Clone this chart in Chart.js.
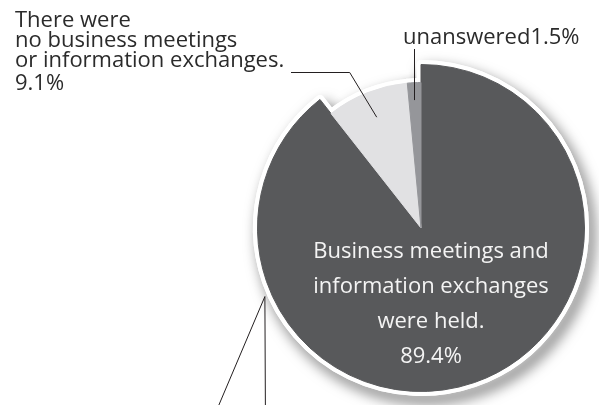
<!DOCTYPE html>
<html>
<head>
<meta charset="utf-8">
<script src="https://cdn.jsdelivr.net/npm/chart.js@4.4.1/dist/chart.umd.min.js"></script>
<style>
  html, body { margin: 0; padding: 0; background: #fff; }
  #wrap { width: 599px; height: 405px; position: relative; }
</style>
</head>
<body>
<div id="wrap"><canvas id="meetingChart"></canvas></div>
<script>
const categories = [
  "Business meetings and information exchanges were held.",
  "There were no business meetings or information exchanges.",
  "unanswered",
];
const shares = [89.4, 9.1, 1.5];
const heldLines = ["Business meetings and", "information exchanges", "were held."];
const noneLines = ["There were", "no business meetings", "or information exchanges."];
const unansweredLabel = "unanswered";

const sliceColors = ["#58595b", "#e1e1e3", "#95969a"];
// the two small slices are drawn a bit shorter than the main one
const sliceReach = [1, 0.89, 0.89];
const labelFont = '22px "Open Sans"';
const inkColor = "#2b2b2b";

const pct = (v) => v.toFixed(1) + "%";

const rimPlugin = {
  id: "rim",
  afterDatasetsUpdate(chart) {
    const meta = chart.getDatasetMeta(0);
    const full = meta.controller.outerRadius;
    meta.data.forEach((arc, i) => {
      arc.outerRadius = full * sliceReach[i];
    });
  },
  beforeDatasetsDraw(chart) {
    const ctx = chart.ctx;
    const arcs = chart.getDatasetMeta(0).data;
    const outline = (arc) => {
      const ghost = Object.create(arc);
      ghost.options = Object.assign({}, arc.options, {
        backgroundColor: "rgba(0,0,0,0)",
        borderColor: "#ffffff",
        borderWidth: 9,
        borderJoinStyle: "round",
        borderAlign: "center",
      });
      ghost.draw(ctx);
    };
    ctx.save();
    ctx.shadowColor = "rgba(0,0,0,0.6)";
    ctx.shadowBlur = 14;
    ctx.shadowOffsetX = 5;
    ctx.shadowOffsetY = 7;
    arcs.forEach(outline);
    ctx.restore();
    arcs.forEach(outline);
  },
  afterDraw(chart) {
    const ctx = chart.ctx;
    const arcs = chart.getDatasetMeta(0).data;
    const cx = arcs[0].x;
    const cy = arcs[0].y;
    const R = arcs[0].outerRadius;
    const mid = (arc) => (arc.startAngle + arc.endAngle) / 2;
    const at = (angle, r) => ({ x: cx + Math.cos(angle) * r, y: cy + Math.sin(angle) * r });

    ctx.save();
    ctx.strokeStyle = "#231f20";
    ctx.lineWidth = 1;

    // leader for "no meetings"
    const pNone = at(mid(arcs[1]), arcs[1].outerRadius * 0.82);
    ctx.beginPath();
    ctx.moveTo(291, 72.5);
    ctx.lineTo(pNone.x - 27, 72.5);
    ctx.lineTo(pNone.x, pNone.y);
    ctx.stroke();

    // leader for unanswered
    const pUn = at(mid(arcs[2]), arcs[2].outerRadius * 0.88);
    ctx.beginPath();
    ctx.moveTo(Math.round(pUn.x) - 0.5, 49);
    ctx.lineTo(Math.round(pUn.x) - 0.5, pUn.y);
    ctx.stroke();

    // leaders leaving the picture at the bottom
    const pOut = at(156.3 * Math.PI / 180, R + 7);
    ctx.beginPath();
    ctx.moveTo(pOut.x - 46, chart.height);
    ctx.lineTo(pOut.x, pOut.y);
    ctx.lineTo(pOut.x + 0.5, chart.height);
    ctx.stroke();

    // labels
    ctx.font = labelFont;
    ctx.fillStyle = inkColor;
    ctx.textAlign = "left";
    ctx.textBaseline = "alphabetic";
    noneLines.concat([pct(shares[1])]).forEach((t, i) => {
      ctx.fillText(t, 15, [27, 47, 67, 90][i]);
    });
    ctx.fillText(unansweredLabel + pct(shares[2]), 403, 43.5);

    ctx.fillStyle = "#f4f4f4";
    ctx.textAlign = "center";
    heldLines.concat([pct(shares[0])]).forEach((t, i) => {
      ctx.fillText(t, cx + 10, cy + 30 + i * 35);
    });
    ctx.restore();
  },
};

new Chart(document.getElementById("meetingChart"), {
  type: "pie",
  data: {
    labels: categories,
    datasets: [
      {
        data: shares,
        backgroundColor: sliceColors,
        borderColor: sliceColors,
        borderWidth: 1,
      },
    ],
  },
  options: {
    responsive: true,
    maintainAspectRatio: false,
    animation: false,
    events: [],
    layout: {
      padding: { left: 257, right: 14, top: 64, bottom: 13 },
    },
    plugins: {
      legend: { display: false },
      tooltip: { enabled: false },
    },
  },
  plugins: [rimPlugin],
});
</script>
</body>
</html>
